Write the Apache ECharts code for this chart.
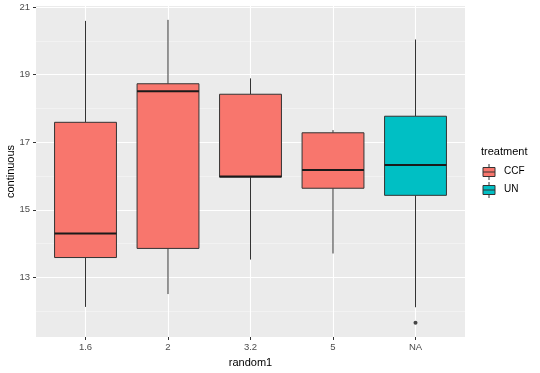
<!DOCTYPE html>
<html>
<head>
<meta charset="utf-8">
<script src="https://cdn.jsdelivr.net/npm/echarts@6/dist/echarts.min.js"></script>
<style>html,body{margin:0;padding:0;background:#fff}#c{width:540px;height:373px}</style>
</head>
<body>
<div id="c"></div>
<script>
const categories = ['1.6', '2', '3.2', '5', 'NA'];
const treatment = ['CCF', 'CCF', 'CCF', 'CCF', 'UN'];
const lowerWhisker = [12.13, 12.51, 13.53, 13.71, 12.12];
const q1 = [13.59, 13.86, 15.97, 15.64, 15.43];
const median = [14.30, 18.51, 15.99, 16.18, 16.33];
const q3 = [17.59, 18.73, 18.42, 17.28, 17.77];
const upperWhisker = [20.59, 20.62, 18.89, 17.36, 20.04];
const outliers = [['NA', 11.66]];
const majorY = [13, 15, 17, 19, 21];
const minorY = [12, 14, 16, 18, 20];
const legendItems = ['CCF', 'UN'];
const fillColors = { CCF: '#F8766D', UN: '#00BFC4' };

const FONT = "'Liberation Sans', Arial, sans-serif";
const boxData = categories.map((c, i) => [i + 1, lowerWhisker[i], q1[i], median[i], q3[i], upperWhisker[i]]);
const outlierData = outliers.map(o => [categories.indexOf(o[0]) + 1, o[1]]);

function renderBox(params, api) {
  const x = api.value(0);
  const pMin = api.coord([x, api.value(1)]);
  const pQ1 = api.coord([x, api.value(2)]);
  const pMed = api.coord([x, api.value(3)]);
  const pQ3 = api.coord([x, api.value(4)]);
  const pMax = api.coord([x, api.value(5)]);
  const half = api.size([0.375, 0])[0];
  const cx = pMin[0];
  const fill = fillColors[treatment[params.dataIndex]];
  return {
    type: 'group',
    children: [
      { type: 'line', shape: { x1: cx, y1: pMax[1], x2: cx, y2: pQ3[1] }, style: { stroke: '#333333', lineWidth: 1 } },
      { type: 'line', shape: { x1: cx, y1: pQ1[1], x2: cx, y2: pMin[1] }, style: { stroke: '#333333', lineWidth: 1 } },
      { type: 'rect', shape: { x: cx - half, y: pQ3[1], width: 2 * half, height: pQ1[1] - pQ3[1] }, style: { fill: fill, stroke: '#333333', lineWidth: 1 } },
      { type: 'line', shape: { x1: cx - half, y1: pMed[1], x2: cx + half, y2: pMed[1] }, style: { stroke: '#1a1a1a', lineWidth: 2 } }
    ]
  };
}

const legendGraphics = [
  { type: 'text', left: 481, top: 146, style: { text: 'treatment', font: '11px ' + FONT, fill: '#000' } }
];
legendItems.forEach((name, i) => {
  const yc = 172 + i * 18;
  legendGraphics.push(
    { type: 'line', shape: { x1: 489, y1: yc - 8, x2: 489, y2: yc + 8 }, style: { stroke: '#333333', lineWidth: 1 } },
    { type: 'rect', shape: { x: 483, y: yc - 4.5, width: 12, height: 9 }, style: { fill: fillColors[name], stroke: '#333333', lineWidth: 1 } },
    { type: 'line', shape: { x1: 483, y1: yc, x2: 495, y2: yc }, style: { stroke: '#333333', lineWidth: 1 } },
    { type: 'text', left: 504, top: yc - 5.5, style: { text: name, font: '10px ' + FONT, fill: '#000' } }
  );
});

const chart = echarts.init(document.getElementById('c'), null, { renderer: 'canvas' });
chart.setOption({
  animation: false,
  backgroundColor: '#ffffff',
  textStyle: { fontFamily: FONT },
  grid: { left: 36, right: 75, top: 6, bottom: 36, show: true, backgroundColor: '#EBEBEB', borderWidth: 0, containLabel: false, outerBoundsMode: 'none' },
  xAxis: {
    type: 'value', min: 0.4, max: 5.6,
    name: 'random1', nameLocation: 'middle', nameGap: 20, nameMoveOverlap: false,
    nameTextStyle: { fontSize: 11, color: '#000', fontFamily: FONT },
    axisLine: { show: false },
    axisTick: { show: true, length: 3, customValues: [1, 2, 3, 4, 5], lineStyle: { color: '#333333', width: 1 } },
    axisLabel: { customValues: [1, 2, 3, 4, 5], formatter: v => categories[Math.round(v) - 1], fontSize: 9.5, color: '#4D4D4D', margin: 5, fontFamily: FONT },
    splitLine: { show: true, lineStyle: { color: '#ffffff', width: 1.1 } }
  },
  yAxis: [
    {
      type: 'value', min: 11.24, max: 21.03,
      name: 'continuous', nameLocation: 'middle', nameGap: 20, nameRotate: 90, nameMoveOverlap: false,
      nameTextStyle: { fontSize: 11, color: '#000', fontFamily: FONT },
      axisLine: { show: false },
      axisTick: { show: true, length: 3, customValues: majorY, lineStyle: { color: '#333333', width: 1 } },
      axisLabel: { customValues: majorY, fontSize: 9.5, color: '#4D4D4D', margin: 6, fontFamily: FONT },
      splitLine: { show: true, lineStyle: { color: '#ffffff', width: 1.1 } }
    },
    {
      type: 'value', min: 11.24, max: 21.03, position: 'left',
      axisLine: { show: false },
      axisTick: { show: false, customValues: minorY },
      axisLabel: { show: false, customValues: minorY },
      splitLine: { show: true, lineStyle: { color: '#F7F7F7', width: 0.6 } }
    }
  ],
  series: [
    { type: 'custom', renderItem: renderBox, data: boxData, encode: { x: 0, y: [1, 2, 3, 4, 5] }, z: 3 },
    { type: 'scatter', data: outlierData, symbolSize: 4, itemStyle: { color: '#1a1a1a' }, z: 4 }
  ],
  graphic: legendGraphics
});
</script>
</body>
</html>
